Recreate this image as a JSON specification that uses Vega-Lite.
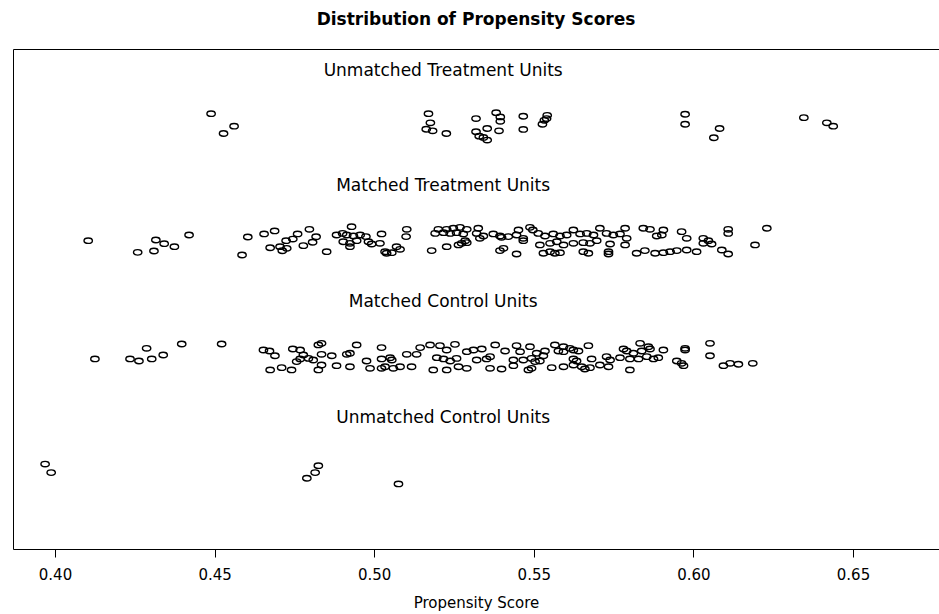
{
  "$schema": "https://vega.github.io/schema/vega-lite/v6.json",
  "width": 926,
  "height": 500,
  "autosize": {"type": "none"},
  "padding": {"left": 13, "top": 49, "right": 0, "bottom": 65},
  "background": "white",
  "config": {"view": {"stroke": null}, "font": "DejaVu Sans"},
  "title": {"text": "Distribution of Propensity Scores", "anchor": "middle", "fontSize": 17, "fontWeight": "bold", "font": "DejaVu Sans", "color": "black", "baseline": "middle", "offset": 12},
  "datasets": {
    "labels": [
      {"label": "Unmatched Treatment Units", "score": 0.5216, "level": 4},
      {"label": "Matched Treatment Units", "score": 0.5216, "level": 3},
      {"label": "Matched Control Units", "score": 0.5216, "level": 2},
      {"label": "Unmatched Control Units", "score": 0.5216, "level": 1}
    ],
    "points": [
      {"group": "UT", "score": 0.4489, "jitter": 3.601}, {"group": "UT", "score": 0.4561, "jitter": 3.493}, {"group": "UT", "score": 0.4528, "jitter": 3.430},
      {"group": "UT", "score": 0.5170, "jitter": 3.601}, {"group": "UT", "score": 0.5176, "jitter": 3.522}, {"group": "UT", "score": 0.5163, "jitter": 3.467},
      {"group": "UT", "score": 0.5183, "jitter": 3.453}, {"group": "UT", "score": 0.5226, "jitter": 3.430}, {"group": "UT", "score": 0.5319, "jitter": 3.559},
      {"group": "UT", "score": 0.5382, "jitter": 3.610}, {"group": "UT", "score": 0.5395, "jitter": 3.573}, {"group": "UT", "score": 0.5395, "jitter": 3.535},
      {"group": "UT", "score": 0.5354, "jitter": 3.473}, {"group": "UT", "score": 0.5391, "jitter": 3.453}, {"group": "UT", "score": 0.5319, "jitter": 3.445},
      {"group": "UT", "score": 0.5329, "jitter": 3.407}, {"group": "UT", "score": 0.5342, "jitter": 3.396}, {"group": "UT", "score": 0.5354, "jitter": 3.373},
      {"group": "UT", "score": 0.5467, "jitter": 3.579}, {"group": "UT", "score": 0.5467, "jitter": 3.465}, {"group": "UT", "score": 0.5542, "jitter": 3.587},
      {"group": "UT", "score": 0.5540, "jitter": 3.559}, {"group": "UT", "score": 0.5533, "jitter": 3.544}, {"group": "UT", "score": 0.5527, "jitter": 3.510},
      {"group": "UT", "score": 0.5974, "jitter": 3.596}, {"group": "UT", "score": 0.5974, "jitter": 3.510}, {"group": "UT", "score": 0.6082, "jitter": 3.473},
      {"group": "UT", "score": 0.6064, "jitter": 3.393}, {"group": "UT", "score": 0.6346, "jitter": 3.567}, {"group": "UT", "score": 0.6418, "jitter": 3.522},
      {"group": "UT", "score": 0.6438, "jitter": 3.493},

      {"group": "MT", "score": 0.4104, "jitter": 2.504}, {"group": "MT", "score": 0.4259, "jitter": 2.403}, {"group": "MT", "score": 0.4310, "jitter": 2.415},
      {"group": "MT", "score": 0.4316, "jitter": 2.510}, {"group": "MT", "score": 0.4342, "jitter": 2.478}, {"group": "MT", "score": 0.4374, "jitter": 2.452},
      {"group": "MT", "score": 0.4420, "jitter": 2.553}, {"group": "MT", "score": 0.4586, "jitter": 2.380}, {"group": "MT", "score": 0.4604, "jitter": 2.536},
      {"group": "MT", "score": 0.4655, "jitter": 2.562}, {"group": "MT", "score": 0.4688, "jitter": 2.588}, {"group": "MT", "score": 0.4674, "jitter": 2.443},
      {"group": "MT", "score": 0.4705, "jitter": 2.452}, {"group": "MT", "score": 0.4712, "jitter": 2.417}, {"group": "MT", "score": 0.4724, "jitter": 2.504},
      {"group": "MT", "score": 0.4726, "jitter": 2.438}, {"group": "MT", "score": 0.4745, "jitter": 2.518}, {"group": "MT", "score": 0.4760, "jitter": 2.562},
      {"group": "MT", "score": 0.4778, "jitter": 2.461}, {"group": "MT", "score": 0.4797, "jitter": 2.602}, {"group": "MT", "score": 0.4807, "jitter": 2.490},
      {"group": "MT", "score": 0.4818, "jitter": 2.538},
      {"group": "MT", "score": 0.4929, "jitter": 2.625}, {"group": "MT", "score": 0.5102, "jitter": 2.602}, {"group": "MT", "score": 0.5201, "jitter": 2.602},
      {"group": "MT", "score": 0.5227, "jitter": 2.602}, {"group": "MT", "score": 0.5248, "jitter": 2.611}, {"group": "MT", "score": 0.5269, "jitter": 2.619},
      {"group": "MT", "score": 0.5290, "jitter": 2.602}, {"group": "MT", "score": 0.5326, "jitter": 2.611}, {"group": "MT", "score": 0.5452, "jitter": 2.596},
      {"group": "MT", "score": 0.5488, "jitter": 2.619}, {"group": "MT", "score": 0.5497, "jitter": 2.596},
      {"group": "MT", "score": 0.4882, "jitter": 2.553}, {"group": "MT", "score": 0.4901, "jitter": 2.567}, {"group": "MT", "score": 0.4914, "jitter": 2.553},
      {"group": "MT", "score": 0.4935, "jitter": 2.544}, {"group": "MT", "score": 0.4956, "jitter": 2.553}, {"group": "MT", "score": 0.4974, "jitter": 2.539},
      {"group": "MT", "score": 0.5023, "jitter": 2.562}, {"group": "MT", "score": 0.5100, "jitter": 2.539}, {"group": "MT", "score": 0.5191, "jitter": 2.567},
      {"group": "MT", "score": 0.5217, "jitter": 2.573}, {"group": "MT", "score": 0.5238, "jitter": 2.567}, {"group": "MT", "score": 0.5258, "jitter": 2.573},
      {"group": "MT", "score": 0.5279, "jitter": 2.562}, {"group": "MT", "score": 0.5321, "jitter": 2.567}, {"group": "MT", "score": 0.5342, "jitter": 2.544},
      {"group": "MT", "score": 0.5373, "jitter": 2.562}, {"group": "MT", "score": 0.5394, "jitter": 2.544}, {"group": "MT", "score": 0.5420, "jitter": 2.539},
      {"group": "MT", "score": 0.5446, "jitter": 2.553}, {"group": "MT", "score": 0.5467, "jitter": 2.524},
      {"group": "MT", "score": 0.4903, "jitter": 2.495}, {"group": "MT", "score": 0.4924, "jitter": 2.481}, {"group": "MT", "score": 0.4945, "jitter": 2.504},
      {"group": "MT", "score": 0.4982, "jitter": 2.495}, {"group": "MT", "score": 0.4992, "jitter": 2.475}, {"group": "MT", "score": 0.5018, "jitter": 2.481},
      {"group": "MT", "score": 0.5070, "jitter": 2.452}, {"group": "MT", "score": 0.5285, "jitter": 2.504}, {"group": "MT", "score": 0.5290, "jitter": 2.487},
      {"group": "MT", "score": 0.5331, "jitter": 2.524}, {"group": "MT", "score": 0.5399, "jitter": 2.533}, {"group": "MT", "score": 0.5467, "jitter": 2.504},
      {"group": "MT", "score": 0.4851, "jitter": 2.409}, {"group": "MT", "score": 0.4924, "jitter": 2.452}, {"group": "MT", "score": 0.5039, "jitter": 2.395},
      {"group": "MT", "score": 0.5034, "jitter": 2.409}, {"group": "MT", "score": 0.5055, "jitter": 2.400}, {"group": "MT", "score": 0.5081, "jitter": 2.429},
      {"group": "MT", "score": 0.5180, "jitter": 2.418}, {"group": "MT", "score": 0.5227, "jitter": 2.452}, {"group": "MT", "score": 0.5264, "jitter": 2.467},
      {"group": "MT", "score": 0.5274, "jitter": 2.481}, {"group": "MT", "score": 0.5394, "jitter": 2.418}, {"group": "MT", "score": 0.5405, "jitter": 2.438},
      {"group": "MT", "score": 0.5446, "jitter": 2.389},
      {"group": "MT", "score": 0.5514, "jitter": 2.567}, {"group": "MT", "score": 0.5535, "jitter": 2.544}, {"group": "MT", "score": 0.5561, "jitter": 2.562},
      {"group": "MT", "score": 0.5582, "jitter": 2.544}, {"group": "MT", "score": 0.5603, "jitter": 2.553}, {"group": "MT", "score": 0.5624, "jitter": 2.596},
      {"group": "MT", "score": 0.5645, "jitter": 2.562}, {"group": "MT", "score": 0.5666, "jitter": 2.567}, {"group": "MT", "score": 0.5687, "jitter": 2.553},
      {"group": "MT", "score": 0.5707, "jitter": 2.611}, {"group": "MT", "score": 0.5728, "jitter": 2.567}, {"group": "MT", "score": 0.5749, "jitter": 2.553},
      {"group": "MT", "score": 0.5770, "jitter": 2.562}, {"group": "MT", "score": 0.5786, "jitter": 2.611}, {"group": "MT", "score": 0.5791, "jitter": 2.524},
      {"group": "MT", "score": 0.5843, "jitter": 2.611}, {"group": "MT", "score": 0.5864, "jitter": 2.602}, {"group": "MT", "score": 0.5885, "jitter": 2.544},
      {"group": "MT", "score": 0.5901, "jitter": 2.553}, {"group": "MT", "score": 0.5906, "jitter": 2.596}, {"group": "MT", "score": 0.5963, "jitter": 2.582},
      {"group": "MT", "score": 0.5979, "jitter": 2.524}, {"group": "MT", "score": 0.6031, "jitter": 2.524}, {"group": "MT", "score": 0.6047, "jitter": 2.504},
      {"group": "MT", "score": 0.6109, "jitter": 2.602}, {"group": "MT", "score": 0.6109, "jitter": 2.567}, {"group": "MT", "score": 0.6230, "jitter": 2.611},
      {"group": "MT", "score": 0.5519, "jitter": 2.467}, {"group": "MT", "score": 0.5551, "jitter": 2.481}, {"group": "MT", "score": 0.5572, "jitter": 2.495},
      {"group": "MT", "score": 0.5593, "jitter": 2.467}, {"group": "MT", "score": 0.5624, "jitter": 2.481}, {"group": "MT", "score": 0.5655, "jitter": 2.487},
      {"group": "MT", "score": 0.5676, "jitter": 2.481}, {"group": "MT", "score": 0.5697, "jitter": 2.504}, {"group": "MT", "score": 0.5739, "jitter": 2.475},
      {"group": "MT", "score": 0.5786, "jitter": 2.467}, {"group": "MT", "score": 0.6031, "jitter": 2.481}, {"group": "MT", "score": 0.6057, "jitter": 2.475},
      {"group": "MT", "score": 0.6193, "jitter": 2.467},
      {"group": "MT", "score": 0.5530, "jitter": 2.395}, {"group": "MT", "score": 0.5551, "jitter": 2.409}, {"group": "MT", "score": 0.5566, "jitter": 2.395},
      {"group": "MT", "score": 0.5582, "jitter": 2.400}, {"group": "MT", "score": 0.5655, "jitter": 2.409}, {"group": "MT", "score": 0.5671, "jitter": 2.395},
      {"group": "MT", "score": 0.5734, "jitter": 2.409}, {"group": "MT", "score": 0.5734, "jitter": 2.389}, {"group": "MT", "score": 0.5822, "jitter": 2.395},
      {"group": "MT", "score": 0.5848, "jitter": 2.418}, {"group": "MT", "score": 0.5880, "jitter": 2.395}, {"group": "MT", "score": 0.5906, "jitter": 2.400},
      {"group": "MT", "score": 0.5927, "jitter": 2.409}, {"group": "MT", "score": 0.5948, "jitter": 2.418}, {"group": "MT", "score": 0.5979, "jitter": 2.423},
      {"group": "MT", "score": 0.6010, "jitter": 2.409}, {"group": "MT", "score": 0.6089, "jitter": 2.423}, {"group": "MT", "score": 0.6109, "jitter": 2.389},

      {"group": "MC", "score": 0.4125, "jitter": 1.482}, {"group": "MC", "score": 0.4235, "jitter": 1.482}, {"group": "MC", "score": 0.4263, "jitter": 1.464},
      {"group": "MC", "score": 0.4303, "jitter": 1.482}, {"group": "MC", "score": 0.4339, "jitter": 1.516}, {"group": "MC", "score": 0.4287, "jitter": 1.574},
      {"group": "MC", "score": 0.4397, "jitter": 1.611}, {"group": "MC", "score": 0.4522, "jitter": 1.611}, {"group": "MC", "score": 0.4653, "jitter": 1.559},
      {"group": "MC", "score": 0.4672, "jitter": 1.551}, {"group": "MC", "score": 0.4689, "jitter": 1.510}, {"group": "MC", "score": 0.4745, "jitter": 1.568},
      {"group": "MC", "score": 0.4768, "jitter": 1.559}, {"group": "MC", "score": 0.4778, "jitter": 1.516}, {"group": "MC", "score": 0.4794, "jitter": 1.487},
      {"group": "MC", "score": 0.4768, "jitter": 1.482}, {"group": "MC", "score": 0.4757, "jitter": 1.459}, {"group": "MC", "score": 0.4809, "jitter": 1.473},
      {"group": "MC", "score": 0.4825, "jitter": 1.603}, {"group": "MC", "score": 0.4674, "jitter": 1.387}, {"group": "MC", "score": 0.4710, "jitter": 1.407},
      {"group": "MC", "score": 0.4741, "jitter": 1.387}, {"group": "MC", "score": 0.4825, "jitter": 1.387},
      {"group": "MC", "score": 0.4835, "jitter": 1.617}, {"group": "MC", "score": 0.4945, "jitter": 1.603}, {"group": "MC", "score": 0.5023, "jitter": 1.580},
      {"group": "MC", "score": 0.5144, "jitter": 1.580}, {"group": "MC", "score": 0.5175, "jitter": 1.603}, {"group": "MC", "score": 0.5206, "jitter": 1.597},
      {"group": "MC", "score": 0.5253, "jitter": 1.608}, {"group": "MC", "score": 0.5379, "jitter": 1.603}, {"group": "MC", "score": 0.5446, "jitter": 1.597},
      {"group": "MC", "score": 0.5488, "jitter": 1.588},
      {"group": "MC", "score": 0.4835, "jitter": 1.522}, {"group": "MC", "score": 0.4867, "jitter": 1.510}, {"group": "MC", "score": 0.4914, "jitter": 1.522},
      {"group": "MC", "score": 0.4924, "jitter": 1.531}, {"group": "MC", "score": 0.5050, "jitter": 1.493}, {"group": "MC", "score": 0.5102, "jitter": 1.522},
      {"group": "MC", "score": 0.5133, "jitter": 1.522}, {"group": "MC", "score": 0.5227, "jitter": 1.559}, {"group": "MC", "score": 0.5290, "jitter": 1.545},
      {"group": "MC", "score": 0.5311, "jitter": 1.559}, {"group": "MC", "score": 0.5337, "jitter": 1.568}, {"group": "MC", "score": 0.5410, "jitter": 1.551},
      {"group": "MC", "score": 0.5457, "jitter": 1.545}, {"group": "MC", "score": 0.5509, "jitter": 1.531},
      {"group": "MC", "score": 0.4976, "jitter": 1.464}, {"group": "MC", "score": 0.5023, "jitter": 1.482}, {"group": "MC", "score": 0.5055, "jitter": 1.473},
      {"group": "MC", "score": 0.5196, "jitter": 1.493}, {"group": "MC", "score": 0.5217, "jitter": 1.482}, {"group": "MC", "score": 0.5238, "jitter": 1.464},
      {"group": "MC", "score": 0.5258, "jitter": 1.487}, {"group": "MC", "score": 0.5321, "jitter": 1.473}, {"group": "MC", "score": 0.5352, "jitter": 1.482},
      {"group": "MC", "score": 0.5363, "jitter": 1.502}, {"group": "MC", "score": 0.5436, "jitter": 1.473}, {"group": "MC", "score": 0.5467, "jitter": 1.473},
      {"group": "MC", "score": 0.5493, "jitter": 1.487},
      {"group": "MC", "score": 0.4835, "jitter": 1.430}, {"group": "MC", "score": 0.4882, "jitter": 1.424}, {"group": "MC", "score": 0.4924, "jitter": 1.415},
      {"group": "MC", "score": 0.4987, "jitter": 1.401}, {"group": "MC", "score": 0.5023, "jitter": 1.401}, {"group": "MC", "score": 0.5034, "jitter": 1.415},
      {"group": "MC", "score": 0.5060, "jitter": 1.401}, {"group": "MC", "score": 0.5081, "jitter": 1.415}, {"group": "MC", "score": 0.5117, "jitter": 1.415},
      {"group": "MC", "score": 0.5185, "jitter": 1.387}, {"group": "MC", "score": 0.5227, "jitter": 1.387}, {"group": "MC", "score": 0.5264, "jitter": 1.415},
      {"group": "MC", "score": 0.5290, "jitter": 1.401}, {"group": "MC", "score": 0.5363, "jitter": 1.401}, {"group": "MC", "score": 0.5399, "jitter": 1.395},
      {"group": "MC", "score": 0.5436, "jitter": 1.424}, {"group": "MC", "score": 0.5483, "jitter": 1.387},
      {"group": "MC", "score": 0.5566, "jitter": 1.603}, {"group": "MC", "score": 0.5593, "jitter": 1.588}, {"group": "MC", "score": 0.5613, "jitter": 1.574},
      {"group": "MC", "score": 0.5671, "jitter": 1.597}, {"group": "MC", "score": 0.5833, "jitter": 1.617}, {"group": "MC", "score": 0.5859, "jitter": 1.588},
      {"group": "MC", "score": 0.6052, "jitter": 1.617}, {"group": "MC", "score": 0.5974, "jitter": 1.574},
      {"group": "MC", "score": 0.5535, "jitter": 1.551}, {"group": "MC", "score": 0.5577, "jitter": 1.551}, {"group": "MC", "score": 0.5593, "jitter": 1.545},
      {"group": "MC", "score": 0.5624, "jitter": 1.559}, {"group": "MC", "score": 0.5640, "jitter": 1.551}, {"group": "MC", "score": 0.5781, "jitter": 1.568},
      {"group": "MC", "score": 0.5791, "jitter": 1.551}, {"group": "MC", "score": 0.5812, "jitter": 1.531}, {"group": "MC", "score": 0.5838, "jitter": 1.551},
      {"group": "MC", "score": 0.5864, "jitter": 1.568}, {"group": "MC", "score": 0.5906, "jitter": 1.559}, {"group": "MC", "score": 0.6052, "jitter": 1.510},
      {"group": "MC", "score": 0.5974, "jitter": 1.559},
      {"group": "MC", "score": 0.5530, "jitter": 1.510}, {"group": "MC", "score": 0.5504, "jitter": 1.459}, {"group": "MC", "score": 0.5519, "jitter": 1.464},
      {"group": "MC", "score": 0.5624, "jitter": 1.482}, {"group": "MC", "score": 0.5634, "jitter": 1.464}, {"group": "MC", "score": 0.5681, "jitter": 1.482},
      {"group": "MC", "score": 0.5728, "jitter": 1.502}, {"group": "MC", "score": 0.5739, "jitter": 1.473}, {"group": "MC", "score": 0.5770, "jitter": 1.493},
      {"group": "MC", "score": 0.5801, "jitter": 1.482}, {"group": "MC", "score": 0.5828, "jitter": 1.482}, {"group": "MC", "score": 0.5854, "jitter": 1.502},
      {"group": "MC", "score": 0.5875, "jitter": 1.482}, {"group": "MC", "score": 0.5890, "jitter": 1.493}, {"group": "MC", "score": 0.5948, "jitter": 1.464},
      {"group": "MC", "score": 0.5963, "jitter": 1.444},
      {"group": "MC", "score": 0.5493, "jitter": 1.401}, {"group": "MC", "score": 0.5556, "jitter": 1.407}, {"group": "MC", "score": 0.5593, "jitter": 1.415},
      {"group": "MC", "score": 0.5624, "jitter": 1.430}, {"group": "MC", "score": 0.5650, "jitter": 1.415}, {"group": "MC", "score": 0.5660, "jitter": 1.395},
      {"group": "MC", "score": 0.5676, "jitter": 1.407}, {"group": "MC", "score": 0.5707, "jitter": 1.430}, {"group": "MC", "score": 0.5734, "jitter": 1.415},
      {"group": "MC", "score": 0.5801, "jitter": 1.387}, {"group": "MC", "score": 0.5969, "jitter": 1.424}, {"group": "MC", "score": 0.6094, "jitter": 1.424},
      {"group": "MC", "score": 0.6115, "jitter": 1.444}, {"group": "MC", "score": 0.6141, "jitter": 1.436}, {"group": "MC", "score": 0.6186, "jitter": 1.444},

      {"group": "UC", "score": 0.3969, "jitter": 0.574}, {"group": "UC", "score": 0.3988, "jitter": 0.500}, {"group": "UC", "score": 0.4825, "jitter": 0.560},
      {"group": "UC", "score": 0.4815, "jitter": 0.500}, {"group": "UC", "score": 0.4789, "jitter": 0.451}, {"group": "UC", "score": 0.5076, "jitter": 0.402}
    ]
  },
  "layer": [
    {
      "data": {"name": "points"},
      "mark": {"type": "point", "shape": "M-1,0C-1,-0.359,-0.552,-0.65,0,-0.65C0.552,-0.65,1,-0.359,1,0C1,0.359,0.552,0.65,0,0.65C-0.552,0.65,-1,0.359,-1,0Z", "filled": false, "color": "black", "strokeWidth": 1.4, "size": 70, "opacity": 1},
      "encoding": {
        "x": {"field": "score", "type": "quantitative", "scale": {"domain": [0.38684, 0.67694], "nice": false, "zero": false},
          "axis": {"orient": "bottom", "values": [0.4, 0.45, 0.5, 0.55, 0.6, 0.65], "format": ".2f", "title": "Propensity Score", "grid": false, "domainColor": "black", "domainWidth": 1, "tickColor": "black", "tickSize": 8, "labelFont": "DejaVu Sans", "labelFontSize": 15, "labelColor": "black", "labelPadding": 10, "labelFlush": false, "titleFont": "DejaVu Sans", "titleFontSize": 15, "titleFontWeight": "normal", "titleColor": "black", "titlePadding": 13}},
        "y": {"field": "jitter", "type": "quantitative", "scale": {"domain": [-0.16, 4.16], "nice": false, "zero": false},
          "axis": {"orient": "left", "labels": false, "ticks": false, "grid": false, "title": null, "domain": true, "domainColor": "black", "domainWidth": 1}}
      }
    },
    {
      "data": {"name": "labels"},
      "mark": {"type": "text", "font": "DejaVu Sans", "fontSize": 17, "color": "black", "baseline": "middle", "align": "center", "dy": 3},
      "encoding": {
        "x": {"field": "score", "type": "quantitative", "axis": {"orient": "top", "labels": false, "ticks": false, "grid": false, "title": null, "domainColor": "black", "domainWidth": 1}},
        "y": {"field": "level", "type": "quantitative", "axis": {"orient": "left", "labels": false, "ticks": false, "grid": false, "title": null, "domain": true, "domainColor": "black", "domainWidth": 1}},
        "text": {"field": "label"}
      }
    }
  ],
  "resolve": {"axis": {"x": "independent"}}
}
